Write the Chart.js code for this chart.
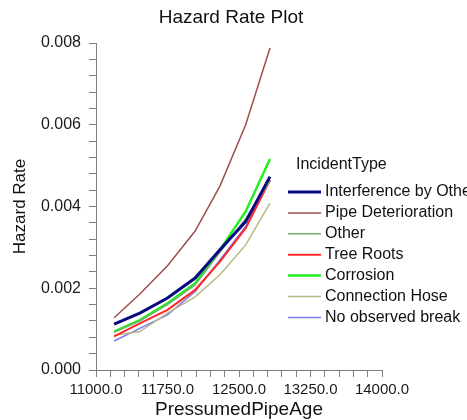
<!DOCTYPE html>
<html>
<head>
<meta charset="utf-8">
<script src="https://cdn.jsdelivr.net/npm/chart.js@4.4.1/dist/chart.umd.min.js"></script>
<style>
html,body{margin:0;padding:0;background:#fff;overflow:hidden;}
#wrap{width:467px;height:420px;position:relative;}
</style>
</head>
<body>
<div id="wrap"><canvas id="c" width="467" height="420"></canvas></div>
<script>
// ---- data ----
const xValues = [11190, 11460, 11750, 12040, 12300, 12570, 12825];
const seriesNames = ["Interference by Other", "Pipe Deterioration", "Other", "Tree Roots", "Corrosion", "Connection Hose", "No observed break"];
const interference = [0.00112, 0.00139, 0.00176, 0.00225, 0.00294, 0.00363, 0.00473];
const pipeDeterioration = [0.00128, 0.00186, 0.00255, 0.00340, 0.00450, 0.00600, 0.00788];
const other = [0.00092, 0.00120, 0.00160, 0.00208, 0.00288, 0.00370, 0.00462];
const treeRoots = [0.00082, 0.00114, 0.00147, 0.00196, 0.00265, 0.00347, 0.00465];
const corrosion = [0.00094, 0.00122, 0.00163, 0.00212, 0.00294, 0.00388, 0.00516];
const connectionHose = [0.00085, 0.00094, 0.00139, 0.00179, 0.00233, 0.00306, 0.00408];
const noObservedBreak = [0.00071, 0.00102, 0.00135, 0.00192, 0.00269, 0.00351, 0.00465];
const xTickLabels = [11000, 11750, 12500, 13250, 14000];
const yTickLabels = [0.000, 0.002, 0.004, 0.006, 0.008];
const chartTitle = "Hazard Rate Plot";
const legendTitle = "IncidentType";

// ---- styles ----
const styles = [
  {color: "#0a0a80", width: 3},
  {color: "#9e4f4c", width: 1.5},
  {color: "#72b072", width: 1.5},
  {color: "#ff2626", width: 2},
  {color: "#22ee22", width: 2.5},
  {color: "#b9b982", width: 1.5},
  {color: "#7a7af2", width: 1.5}
];
const allSeries = [interference, pipeDeterioration, other, treeRoots, corrosion, connectionHose, noObservedBreak];

const datasets = allSeries.map((vals, i) => ({
  label: seriesNames[i],
  data: vals.map((v, j) => ({x: xValues[j], y: v})),
  borderColor: styles[i].color,
  backgroundColor: styles[i].color,
  borderWidth: styles[i].width,
  pointRadius: 0,
  tension: 0,
  fill: false
}));

const FONT = '"Liberation Sans", Arial, sans-serif';
const axisColor = "#808080";

function buildTicks(min, max, step) {
  const t = [];
  const n = Math.round((max - min) / step);
  for (let i = 0; i <= n; i++) t.push({value: min + i * step});
  return t;
}
function isLabel(v, list) {
  return list.some(l => Math.abs(l - v) < 1e-9 * Math.max(1, Math.abs(l)));
}

const decorPlugin = {
  id: "decor",
  afterDraw(chart) {
    const ctx = chart.ctx;
    ctx.save();
    // chart title
    ctx.font = "19px " + FONT;
    ctx.fillStyle = "#111";
    ctx.textBaseline = "middle";
    ctx.textAlign = "center";
    ctx.fillText(chartTitle, 231, 18);
    // legend
    ctx.font = "16px " + FONT;
    ctx.textAlign = "left";
    ctx.fillText(legendTitle, 296, 165);
    chart.data.datasets.forEach((ds, i) => {
      const y = 192 + i * 20.9;
      ctx.beginPath();
      ctx.strokeStyle = ds.borderColor;
      ctx.lineWidth = ds.borderWidth;
      ctx.moveTo(288, y);
      ctx.lineTo(321, y);
      ctx.stroke();
      ctx.fillStyle = "#111";
      ctx.fillText(ds.label, 325, y);
    });
    ctx.restore();
  }
};

new Chart(document.getElementById("c"), {
  type: "line",
  data: {datasets},
  plugins: [decorPlugin],
  options: {
    responsive: false,
    animation: false,
    layout: {padding: {top: 43, right: 85, bottom: 0, left: 0}},
    plugins: {
      legend: {display: false},
      tooltip: {enabled: false},
      title: {display: false}
    },
    scales: {
      x: {
        type: "linear",
        min: 11000,
        max: 14000,
        afterBuildTicks(s) { s.ticks = buildTicks(11000, 14000, 150); },
        afterFit(s) { s.height = 50; },
        ticks: {
          autoSkip: false,
          maxRotation: 0,
          padding: 4,
          color: "#1a1a1a",
          font: {family: FONT, size: 15},
          callback(v) { return isLabel(v, xTickLabels) ? Number(v).toFixed(1) : ""; }
        },
        grid: {drawOnChartArea: false, drawTicks: true, tickLength: 7, tickColor: axisColor},
        border: {display: true, color: axisColor, width: 1},
        title: {
          display: true,
          text: "PressumedPipeAge",
          color: "#111",
          font: {family: FONT, size: 19, lineHeight: 1},
          padding: {top: 0, bottom: 1}
        }
      },
      y: {
        type: "linear",
        min: 0,
        max: 0.008,
        afterBuildTicks(s) { s.ticks = buildTicks(0, 0.008, 0.0004); },
        afterFit(s) { s.width = 96; },
        ticks: {
          autoSkip: false,
          padding: 8,
          color: "#1a1a1a",
          font: {family: FONT, size: 16},
          callback(v) { return isLabel(v, yTickLabels) ? Number(v).toFixed(3) : ""; }
        },
        grid: {drawOnChartArea: false, drawTicks: true, tickLength: 7, tickColor: axisColor},
        border: {display: true, color: axisColor, width: 1},
        title: {
          display: true,
          text: "Hazard Rate",
          color: "#111",
          font: {family: FONT, size: 17, lineHeight: 1.2},
          padding: {top: 10, bottom: 0}
        }
      }
    }
  }
});
</script>
</body>
</html>
